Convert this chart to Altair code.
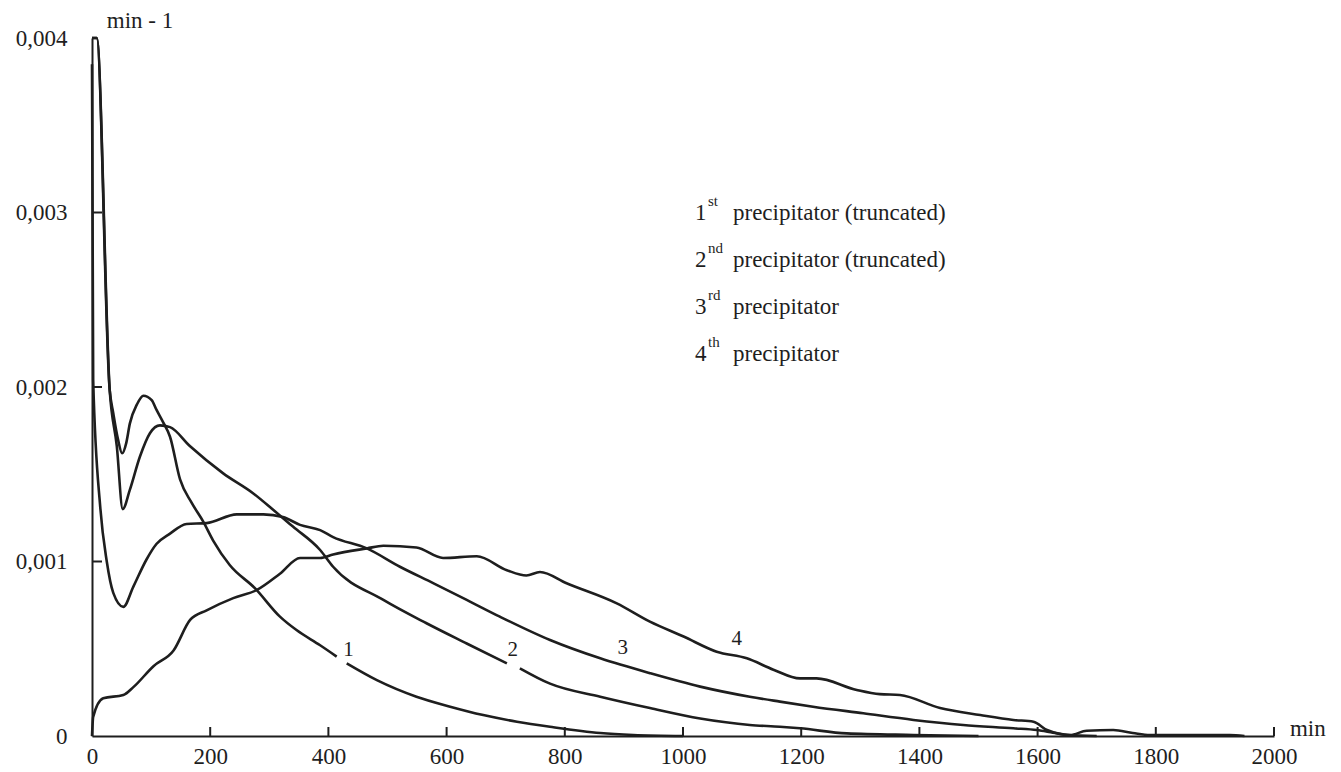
import altair as alt
import pandas as pd

# ---- curve data (time in min, value in 1e-3 min^-1) ----
c1a_t = [0, 8, 30, 36, 44, 51, 58, 64, 76, 87, 101, 109, 120, 132, 149, 168, 188, 205, 233, 276, 318, 346, 386, 414]
c1a_v = [4.0, 4.0, 1.98, 1.85, 1.70, 1.62, 1.68, 1.79, 1.90, 1.95, 1.925, 1.87, 1.80, 1.715, 1.47, 1.34, 1.23, 1.12, 0.98, 0.846, 0.684, 0.607, 0.52, 0.455]
c1b_t = [431, 482, 549, 606, 662, 719, 775, 860, 916, 1000]
c1b_v = [0.416, 0.32, 0.225, 0.168, 0.12, 0.082, 0.053, 0.017, 0.006, 0.0]

c2a_t = [0, 8, 30, 42, 52, 64, 81, 98, 115, 132, 166, 222, 273, 307, 340, 386, 408, 493, 566, 634, 702]
c2a_v = [4.0, 4.0, 1.98, 1.66, 1.30, 1.41, 1.60, 1.735, 1.78, 1.77, 1.66, 1.505, 1.39, 1.295, 1.20, 1.066, 0.97, 0.78, 0.646, 0.53, 0.416]
c2b_t = [724, 775, 860, 944, 1029, 1113, 1164, 1198, 1277, 1390, 1500]
c2b_v = [0.388, 0.30, 0.225, 0.16, 0.10, 0.063, 0.053, 0.044, 0.015, 0.006, 0.0]

c3_t = [0, 2, 14, 25, 36, 53, 70, 92, 109, 132, 160, 194, 245, 290, 323, 352, 386, 408, 465, 521, 578, 634, 690, 775, 860, 944, 1029, 1113, 1164, 1220, 1305, 1390, 1474, 1559, 1599, 1626, 1650, 1700]
c3_v = [3.85, 2.04, 1.31, 1.0, 0.82, 0.74, 0.856, 1.01, 1.10, 1.16, 1.215, 1.22, 1.27, 1.27, 1.255, 1.21, 1.18, 1.14, 1.075, 0.97, 0.875, 0.78, 0.684, 0.55, 0.445, 0.36, 0.283, 0.225, 0.197, 0.168, 0.13, 0.092, 0.063, 0.044, 0.034, 0.019, 0.006, 0.0]

c4_t = [0, 2, 19, 53, 70, 104, 138, 166, 194, 239, 279, 318, 352, 386, 408, 465, 493, 549, 594, 651, 702, 735, 758, 803, 888, 944, 1001, 1057, 1108, 1153, 1198, 1226, 1294, 1333, 1367, 1435, 1503, 1559, 1593, 1616, 1655, 1683, 1728, 1761, 1790, 1925, 1950]
c4_v = [0.0, 0.11, 0.216, 0.235, 0.28, 0.40, 0.49, 0.665, 0.72, 0.79, 0.837, 0.93, 1.02, 1.02, 1.04, 1.075, 1.09, 1.08, 1.02, 1.03, 0.95, 0.92, 0.94, 0.875, 0.76, 0.655, 0.57, 0.483, 0.445, 0.38, 0.33, 0.33, 0.264, 0.24, 0.235, 0.16, 0.12, 0.092, 0.082, 0.034, 0.006, 0.03, 0.034, 0.017, 0.005, 0.006, 0.0]

# curve number labels
num_text = ["1", "2", "3", "4"]
num_t = [434, 712, 898, 1091]
num_v = [0.493, 0.493, 0.504, 0.556]

# legend texts
leg_num = ["1", "2", "3", "4"]
leg_sup = ["st", "nd", "rd", "th"]
leg_name = ["precipitator (truncated)", "precipitator (truncated)", "precipitator", "precipitator"]

x_ticks = list(range(0, 2001, 200))
y_ticks = [0.0, 0.001, 0.002, 0.003, 0.004]

FONT = "Liberation Serif"
INK = "#1e1e1e"

def seg(name, ts, vs):
    return pd.DataFrame({"t": ts, "v": [v / 1000 for v in vs], "seg": name})

lines_df = pd.concat([
    seg("1a", c1a_t, c1a_v), seg("1b", c1b_t, c1b_v),
    seg("2a", c2a_t, c2a_v), seg("2b", c2b_t, c2b_v),
    seg("3", c3_t, c3_v), seg("4", c4_t, c4_v),
])

xs = alt.Scale(domain=[0, 2000], nice=False, zero=False)
ys = alt.Scale(domain=[0, 0.004], nice=False)

x_axis = alt.Axis(values=x_ticks, format="d", ticks=False, tickSize=0, grid=False, title=None,
                  domainColor=INK, domainWidth=2, labelFont=FONT, labelFontSize=23,
                  labelColor=INK, labelPadding=9, labelOverlap=False, labelFlush=False)
y_axis = alt.Axis(values=y_ticks, ticks=False, tickSize=0, grid=False, title=None,
                  domainColor=INK, domainWidth=2, labelFont=FONT, labelFontSize=23,
                  labelColor=INK, labelPadding=25, labelOverlap=False, labelFlush=False,
                  labelExpr="datum.value == 0 ? '0' : replace(format(datum.value, '.3f'), '.', ',')")

base = alt.Chart(lines_df)
lines = base.mark_line(color=INK, strokeWidth=2.6, strokeJoin="round",
                       interpolate="monotone", clip=False).encode(
    x=alt.X("t:Q", scale=xs, axis=x_axis),
    y=alt.Y("v:Q", scale=ys, axis=y_axis),
    detail="seg:N",
    order="t:Q",
)

# inward ticks
xt_df = pd.DataFrame({"t": x_ticks[1:]})
xticks = alt.Chart(xt_df).mark_rule(color=INK, strokeWidth=2).encode(
    x=alt.X("t:Q", scale=xs), y=alt.value(698), y2=alt.value(689))
yt_df = pd.DataFrame({"v": y_ticks[1:4]})
yticks = alt.Chart(yt_df).mark_rule(color=INK, strokeWidth=2).encode(
    y=alt.Y("v:Q", scale=ys), x=alt.value(0), x2=alt.value(10))

# curve numbers
num_df = pd.DataFrame({"t": num_t, "v": [v / 1000 for v in num_v], "s": num_text})
nums = alt.Chart(num_df).mark_text(font=FONT, fontSize=21, color=INK, align="center", baseline="middle").encode(
    x=alt.X("t:Q", scale=xs), y=alt.Y("v:Q", scale=ys), text="s:N")

# axis unit labels
unit_df = pd.DataFrame({"t": [25, 2027], "v": [0.00406, 0.0], "s": ["min - 1", "min"]})
units = alt.Chart(unit_df).mark_text(font=FONT, fontSize=23, color=INK, align="left", baseline="alphabetic").encode(
    x=alt.X("t:Q", scale=xs), y=alt.Y("v:Q", scale=ys), text="s:N")

# legend (text only)
leg_top = 0.002957
leg_step = 0.00027
leg_df = pd.DataFrame({
    "num": leg_num, "sup": leg_sup, "name": leg_name,
    "v": [leg_top - i * leg_step for i in range(len(leg_num))],
})
leg_base = alt.Chart(leg_df)
leg1 = leg_base.mark_text(font=FONT, fontSize=23, color=INK, align="left", baseline="alphabetic").encode(
    x=alt.value(603), y=alt.Y("v:Q", scale=ys), text="num:N")
leg2 = leg_base.mark_text(font=FONT, fontSize=15, color=INK, align="left", baseline="alphabetic", dy=-14).encode(
    x=alt.value(616), y=alt.Y("v:Q", scale=ys), text="sup:N")
leg3 = leg_base.mark_text(font=FONT, fontSize=23, color=INK, align="left", baseline="alphabetic").encode(
    x=alt.value(641), y=alt.Y("v:Q", scale=ys), text="name:N")

chart = alt.layer(lines, xticks, yticks, nums, units, leg1, leg2, leg3).properties(
    width=1182, height=698,
    autosize=alt.AutoSizeParams(type="none"),
    padding={"left": 92, "top": 38, "right": 67, "bottom": 36},
    background="white",
).configure_view(stroke=None)

chart.save("out.html", embed_options={"renderer": "svg", "actions": False})
